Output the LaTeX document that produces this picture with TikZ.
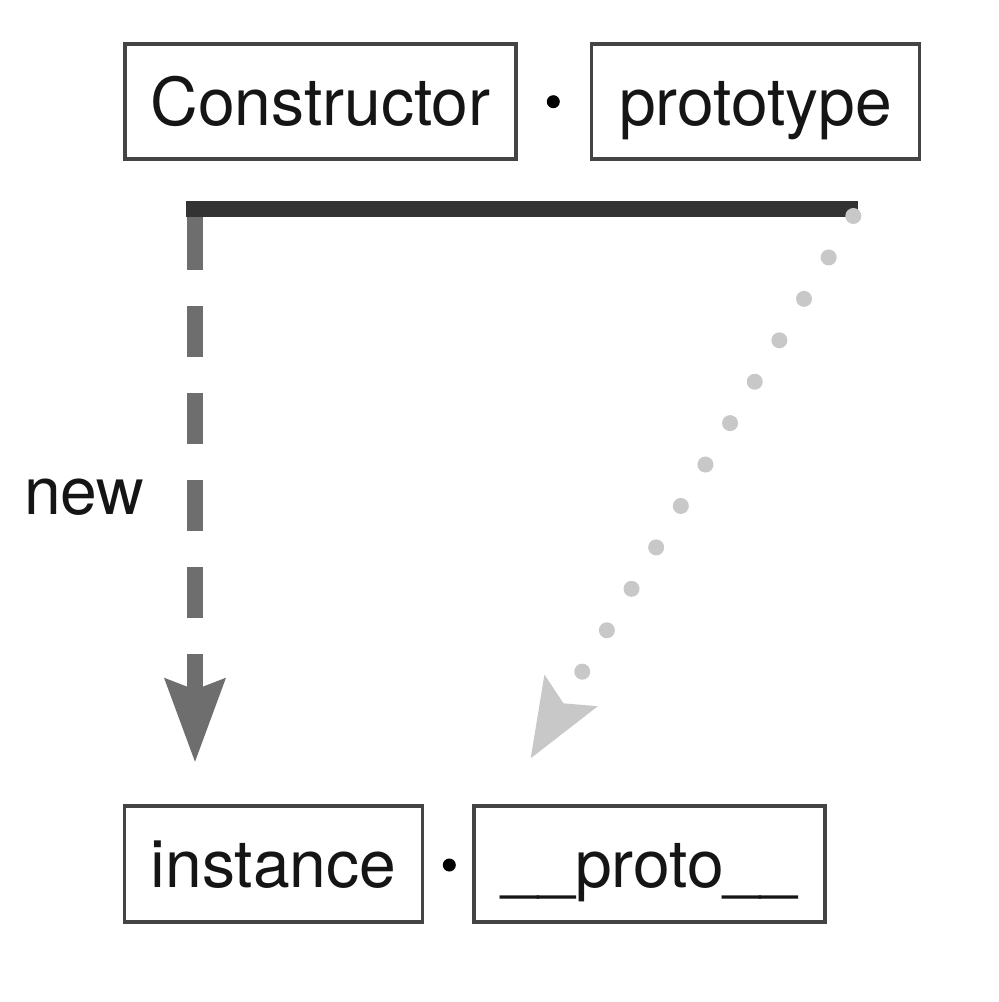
\documentclass[tikz,border=0pt]{standalone}
\usepackage{fontspec}
\setmainfont{TeX Gyre Heros}
\usetikzlibrary{arrows.meta}
\definecolor{boxline}{HTML}{444444}
\definecolor{barcol}{HTML}{333333}
\definecolor{newcol}{HTML}{6E6E6E}
\definecolor{dotcol}{HTML}{C8C8C8}
\definecolor{txtcol}{HTML}{151515}
\begin{document}
\begin{tikzpicture}[x=1pt,y=-1pt,
  namebox/.style={draw=boxline, line width=3.2pt, inner sep=0pt, outer sep=0pt,
    minimum height=115pt, text height=47pt, text depth=0pt,
    font=\fontsize{66}{72}\selectfont, text=txtcol},
  sepdot/.style={circle, fill=black, inner sep=0pt, outer sep=0pt, minimum size=13pt},
  labeltext/.style={font=\fontsize{66}{72}\selectfont, text=txtcol, inner sep=0pt},
  barline/.style={draw=barcol, line width=16.5pt},
  newarrow/.style={draw=newcol, line width=16.5pt,
    dash pattern=on 61pt off 36pt on 51pt off 36pt on 51pt off 36pt on 51pt off 36pt on 51pt off 36pt on 51pt off 36pt,
    -{Stealth[length=84pt,width=62pt,inset=12pt,line width=0pt,fill=newcol]}},
  protoarrow/.style={draw=dotcol, line width=16pt, line cap=round,
    dash pattern=on 0pt off 48.2pt,
    -{Stealth[length=79pt,width=62pt,inset=15pt,line width=0pt,fill=dotcol]}}
]
\useasboundingbox (0,0) rectangle (999,1002);
\fill[white] (0,0) rectangle (999,1002);

% top row
\node[namebox, minimum width=391pt] (ctor) at (320.5,101.5) {Constructor};
\node[namebox, minimum width=328pt] (proto) at (755.5,101.5) {prototype};
\node[sepdot] (dtop) at (553.3,101.7) {};

% bottom row
\node[namebox, minimum width=298pt, minimum height=116pt] (inst) at (273.5,864) {instance};
\node[namebox, minimum width=351pt, minimum height=116pt] (iproto) at (649.5,864) {\_\_proto\_\_};
\node[sepdot] (dbot) at (449.3,865) {};

% label
\node[labeltext, anchor=base west] (newlbl) at (24,514) {new};

% connector end points
\coordinate (barL) at (186,209);
\coordinate (barR) at (858,209);
\coordinate (newTop) at (195,209);
\coordinate (dotTop) at (853.3,216);
\coordinate (protoTip) at (530.7,758.3);

% new arrow (dashed)
\draw[newarrow, shorten >=44.3pt] (newTop) -- (newTop |- inst.north);
% bracket bar
\draw[barline] (barL) -- (barR);
% dotted arrow to __proto__
\draw[protoarrow] (dotTop) -- (protoTip);
\end{tikzpicture}
\end{document}
